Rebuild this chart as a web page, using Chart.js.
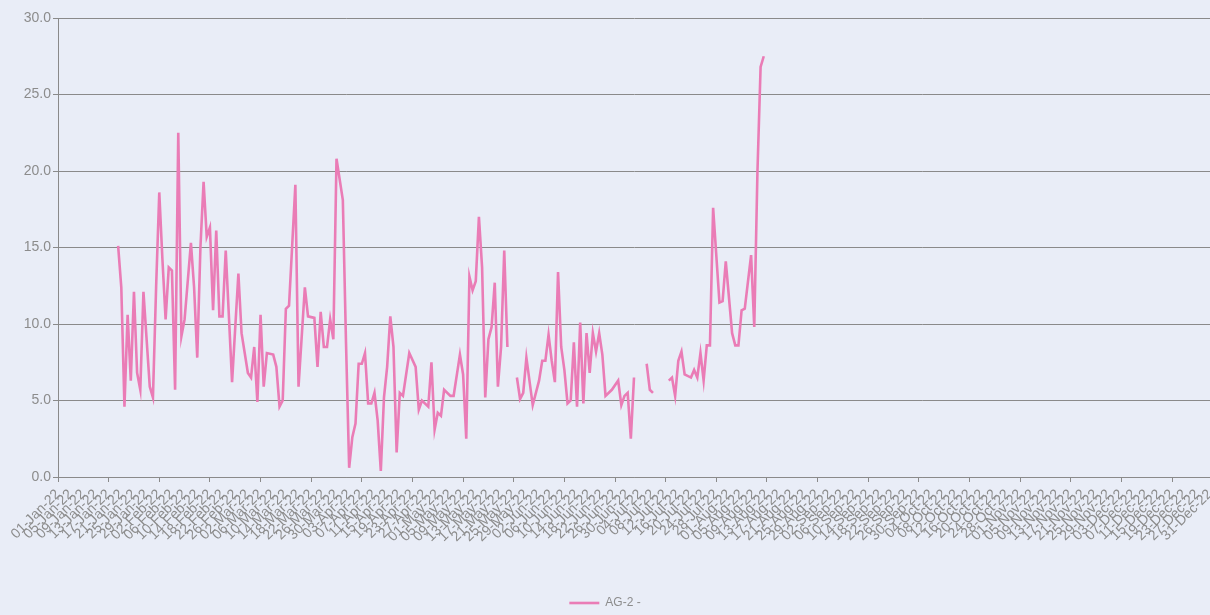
<!DOCTYPE html>
<html>
<head>
<meta charset="utf-8">
<script src="https://cdn.jsdelivr.net/npm/chart.js@4.4.1/dist/chart.umd.min.js"></script>
<style>
  html, body { margin: 0; padding: 0; background: #e9edf7; }
  #wrap { width: 1210px; height: 615px; position: relative; }
</style>
</head>
<body>
<div id="wrap"><canvas id="chartAG2"></canvas></div>
<script>
// daily categories for 2022 (x axis)
const months = ['Jan','Feb','Mar','Apr','May','Jun','Jul','Aug','Sep','Oct','Nov','Dec'];
const dateLabels = [];
for (let d = new Date(2022, 0, 1); d.getFullYear() === 2022; d.setDate(d.getDate() + 1)) {
    dateLabels.push(String(d.getDate()).padStart(2, '0') + '-' + months[d.getMonth()] + '-22');
}

// days (index into dateLabels) that have a reading, and the readings
const readingDays = [
    19, 20, 21, 22, 23, 24, 25, 26, 27, 29, 30, 31, 32, 33, 34, 35, 36, 37, 38, 39, 40,
    42, 43, 44, 45, 46, 47, 48, 49, 50, 51, 52, 53, 55, 57, 58, 60, 61, 62, 63, 64, 65, 66,
    68, 69, 70, 71, 72, 73, 75, 76, 78, 79, 81, 82, 83, 84, 85, 86, 87, 88, 90, 91, 92, 93,
    94, 95, 96, 97, 98, 99, 100, 101, 102, 103, 104, 105, 106, 107, 108, 109, 111, 113, 114,
    115, 117, 118, 119, 120, 121, 122, 124, 125, 127, 128, 129, 130, 131, 132, 133, 134, 135,
    136, 137, 138, 139, 140, 141, 142, 143, 145, 146, 147, 148, 150, 152, 153, 154, 155, 156,
    157, 158, 159, 160, 161, 162, 163, 164, 165, 166, 167, 168, 169, 170, 171, 172, 173, 175,
    177, 178, 179, 180, 181, 182, 184, 186, 187, 188, 190, 193, 194, 195, 196, 197, 198, 200,
    201, 202, 203, 204, 205, 206, 207, 209, 210, 211, 213, 214, 215, 216, 217, 219, 220, 221,
    222, 223
];
const ag2Values = [
    15.1, 12.4, 4.6, 10.6, 6.3, 12.1, 6.8, 5.7, 12.1, 5.9, 5.2, 12.4, 18.6, 14.2, 10.3, 13.7, 13.5, 5.7, 22.5, 9.2, 10.3,
    15.3, 12.4, 7.8, 15.0, 19.3, 15.7, 16.3, 10.9, 16.1, 10.5, 10.5, 14.8, 6.2, 13.3, 9.4, 6.8, 6.5, 8.5, 4.9, 10.6, 5.9, 8.1,
    8.0, 7.2, 4.6, 5.0, 11.0, 11.2, 19.1, 5.9, 12.4, 10.5, 10.4, 7.2, 10.8, 8.5, 8.5, 10.3, 9.0, 20.8, 18.1, 8.8, 0.6, 2.6,
    3.5, 7.4, 7.4, 8.1, 4.8, 4.8, 5.5, 3.7, 0.4, 5.2, 7.2, 10.5, 8.5, 1.6, 5.5, 5.3, 8.1, 7.2, 4.4,
    5.0, 4.6, 7.5, 3.1, 4.2, 4.0, 5.7, 5.3, 5.3, 8.0, 6.7, 2.5, 13.1, 12.2, 12.8, 17.0, 13.7, 5.2,
    9.0, 9.8, 12.7, 5.9, 8.5, 14.8, 8.5, null, 6.5, 5.1, 5.5, 7.8, 4.7, 6.3, 7.6, 7.6, 9.3, 7.6,
    6.2, 13.4, 8.5, 7.0, 4.8, 5.0, 8.8, 4.6, 10.1, 4.8, 9.4, 6.8, 9.4, 8.2, 9.4, 8.0, 5.3, 5.7,
    6.3, 4.7, 5.3, 5.5, 2.5, 6.5, null, 7.4, 5.7, 5.5, null, 6.3, 6.5, 5.3, 7.6, 8.2, 6.7, 6.5,
    7.0, 6.5, 8.1, 6.3, 8.6, 8.6, 17.6, 11.4, 11.5, 14.1, 9.4, 8.6, 8.6, 10.9, 11.0, 14.5, 9.8, 19.9,
    26.8, 27.5
];

const axisGrey = '#8a8a8a';
const textGrey = '#8c8c8c';
const lineColor = '#ea7cb6';
const fontFamily = '"Liberation Sans", Arial, sans-serif';

const ctx = document.getElementById('chartAG2').getContext('2d');
const chartAG2 = new Chart(ctx, {
    type: 'line',
    data: {
        labels: dateLabels,
        datasets: [{
            label: 'AG-2 -',
            data: readingDays.map((d, i) => ({ x: dateLabels[d], y: ag2Values[i] })),
            borderColor: lineColor,
            backgroundColor: lineColor,
            borderWidth: 2.6,
            pointRadius: 0,
            pointHoverRadius: 0,
            pointStyle: 'line',
            tension: 0,
            spanGaps: false
        }]
    },
    options: {
        responsive: true,
        maintainAspectRatio: false,
        animation: false,
        layout: { padding: { left: 0, right: 0, top: 18, bottom: -4 } },
        plugins: {
            tooltip: { enabled: false },
            legend: {
                position: 'bottom',
                labels: {
                    usePointStyle: true,
                    pointStyleWidth: 30,
                    color: textGrey,
                    padding: 4,
                    font: { family: fontFamily, size: 12 }
                }
            }
        },
        scales: {
            x: {
                type: 'category',
                afterFit: scale => {
                    scale.height = 116;
                    scale.paddingRight = 0;   // let the axis run to the right edge
                },
                grid: {
                    drawOnChartArea: false,
                    drawTicks: true,
                    tickLength: 5,
                    color: c => (c.index % 4 === 0 ? axisGrey : 'rgba(0,0,0,0)')
                },
                border: { display: true, color: axisGrey, width: 1 },
                ticks: {
                    autoSkip: false,
                    maxRotation: 45,
                    minRotation: 45,
                    padding: 4,
                    color: textGrey,
                    font: { family: fontFamily, size: 14 },
                    callback: function (val, idx) {
                        return idx % 4 === 0 ? this.getLabelForValue(val) : null;
                    }
                }
            },
            y: {
                min: 0,
                max: 30,
                afterFit: scale => { scale.width = 58; },
                grid: { color: axisGrey, tickLength: 5, lineWidth: 1 },
                border: { display: true, color: axisGrey, width: 1 },
                ticks: {
                    stepSize: 5,
                    padding: 2,
                    color: textGrey,
                    font: { family: fontFamily, size: 14 },
                    callback: v => v.toFixed(1)
                }
            }
        }
    }
});
</script>
</body>
</html>
